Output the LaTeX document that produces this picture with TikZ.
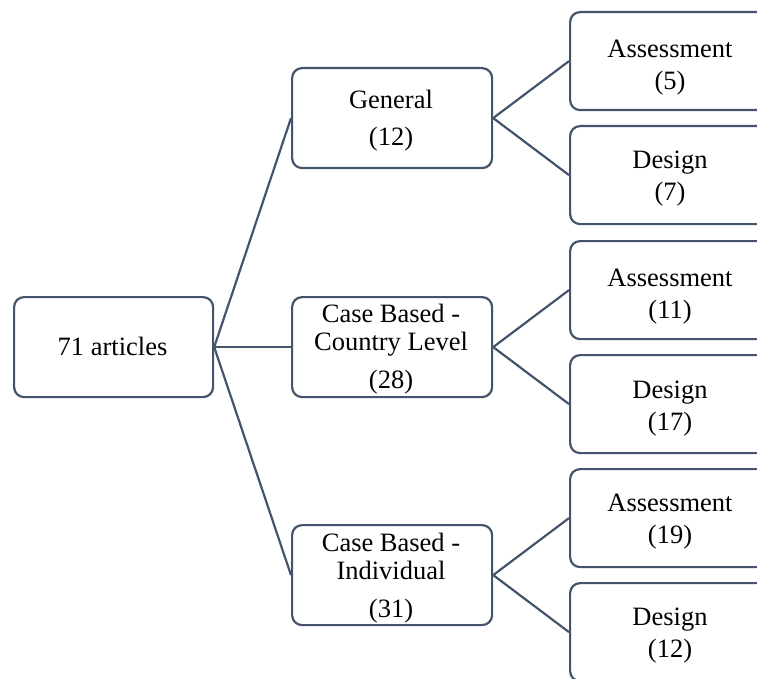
\documentclass[tikz,border=0pt]{standalone}
\usepackage{fontspec}
\setmainfont{Liberation Serif}
\definecolor{edgeclr}{HTML}{44546A}
\begin{document}
\begin{tikzpicture}[x=1pt,y=-1pt,
  box/.style={draw=edgeclr, line width=2.2pt, rounded corners=10pt, inner sep=0pt, anchor=north west, fill=white},
  rootbox/.style={box, minimum width=199pt, minimum height=100pt},
  midbox/.style={box, minimum width=200pt, minimum height=100pt},
  leafbox/.style={box, minimum width=202pt, minimum height=98pt},
  txt/.style={align=center, inner sep=0pt, font=\fontsize{26.5}{28}\selectfont},
  conn/.style={draw=edgeclr, line width=2.2pt}]
\useasboundingbox (0,0) rectangle (757,679);
\clip (0,0) rectangle (757,679);
% boxes
\node[rootbox] (root) at (13,296) {};
\node[midbox] (gen) at (291,67) {};
\node[midbox] (cty) at (291,296) {};
\node[midbox] (ind) at (291,524) {};
\node[leafbox] (a5) at (569,11) {};
\node[leafbox] (d7) at (569,125) {};
\node[leafbox] (a11) at (569,240) {};
\node[leafbox] (d17) at (569,354) {};
\node[leafbox] (a19) at (569,468) {};
\node[leafbox] (d12) at (569,582) {};
% texts
\node[txt] (troot) at (112.5,346) {71 articles};
\node[txt] (tgen) at (391,121) {General\\[9pt](12)};
\node[txt] (tcty) at (391,349.5) {Case Based -\\Country Level\\[10pt](28)};
\node[txt] (tind) at (391,578) {Case Based -\\Individual\\[10pt](31)};
\node[txt] (ta5) at (670,67.5) {Assessment\\[4pt](5)};
\node[txt] (td7) at (670,178.5) {Design\\[4pt](7)};
\node[txt] (ta11) at (670,297) {Assessment\\[4pt](11)};
\node[txt] (td17) at (670,408.5) {Design\\[4pt](17)};
\node[txt] (ta19) at (670,522) {Assessment\\[4pt](19)};
\node[txt] (td12) at (670,636) {Design\\[4pt](12)};
% connectors
\draw[conn] (root.east) -- (gen.west);
\draw[conn] (root.east) -- (cty.west);
\draw[conn] (root.east) -- (ind.west);
\draw[conn] (gen.east) -- (a5.west);
\draw[conn] (gen.east) -- (d7.west);
\draw[conn] (cty.east) -- (a11.west);
\draw[conn] (cty.east) -- (d17.west);
\draw[conn] (ind.east) -- (a19.west);
\draw[conn] (ind.east) -- (d12.west);
\end{tikzpicture}
\end{document}
